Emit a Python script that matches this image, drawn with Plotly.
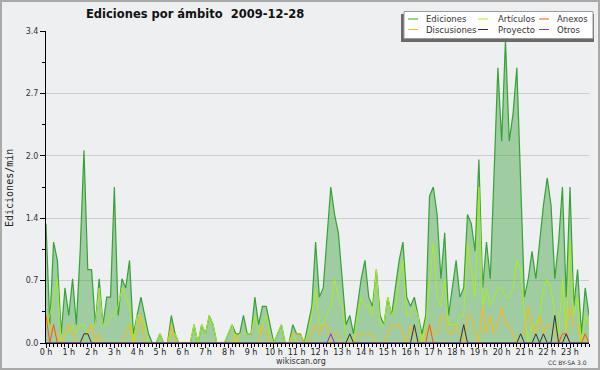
import plotly.graph_objects as go

# ---------------- data (10-minute bins, edits per minute) ----------------
hours = list(range(24))
hour_labels = [f"{h} h" for h in hours]
y_tickvals = [0, 0.68, 1.36, 2.04, 2.72, 3.4]
y_ticklabels = ["0.0", "0.7", "1.4", "2.0", "2.7", "3.4"]

ediciones = [
    1.3, 0.2, 1.1, 0.9, 0.1, 0.6, 0.3, 0.7, 0.2, 1.0, 2.1, 0.8,
    0.8, 0.2, 0.7, 0.2, 0.5, 0.5, 1.7, 0.3, 0.7, 0.6, 0.9, 0.1,
    0.3, 0.5, 0.3, 0.1, 0.0, 0.0, 0.1, 0.0, 0.0, 0.3, 0.1, 0.0,
    0.0, 0.0, 0.0, 0.2, 0.0, 0.2, 0.1, 0.3, 0.2, 0.0, 0.0, 0.0,
    0.1, 0.2, 0.1, 0.1, 0.3, 0.1, 0.1, 0.5, 0.2, 0.4, 0.4, 0.2,
    0.0, 0.1, 0.2, 0.0, 0.0, 0.2, 0.1, 0.1, 0.0, 0.2, 0.4, 1.1,
    0.5, 0.6, 1.1, 1.7, 1.4, 1.2, 0.7, 0.2, 0.3, 0.1, 0.4, 0.7,
    0.9, 0.5, 0.4, 0.8, 0.3, 0.2, 0.5, 0.3, 0.6, 0.9, 1.1, 0.5,
    0.4, 0.5, 0.3, 0.1, 0.3, 1.6, 1.7, 1.4, 0.7, 1.2, 0.3, 0.6,
    0.9, 0.5, 0.6, 1.4, 1.3, 1.0, 2.0, 0.6, 1.1, 0.7, 1.9, 3.0,
    2.2, 3.3, 2.2, 2.5, 3.0, 1.8, 0.5, 0.7, 1.0, 0.7, 1.1, 1.5,
    1.8, 1.5, 0.7, 1.1, 1.7, 0.5, 1.7, 0.4, 0.8, 0.1, 0.6, 0.3,
]

articulos = [
    0.2, 0.3, 0.5, 0.7, 0.0, 0.1, 0.1, 0.2, 0.1, 0.2, 0.2, 0.1,
    0.2, 0.2, 0.6, 0.2, 0.2, 0.3, 0.3, 0.4, 0.6, 0.5, 0.4, 0.0,
    0.3, 0.3, 0.2, 0.0, 0.0, 0.0, 0.1, 0.0, 0.0, 0.1, 0.1, 0.0,
    0.0, 0.0, 0.0, 0.2, 0.0, 0.2, 0.1, 0.3, 0.2, 0.0, 0.0, 0.0,
    0.1, 0.2, 0.0, 0.1, 0.1, 0.1, 0.1, 0.3, 0.1, 0.2, 0.3, 0.1,
    0.0, 0.1, 0.2, 0.0, 0.0, 0.1, 0.0, 0.0, 0.0, 0.1, 0.3, 0.6,
    0.2, 0.2, 0.3, 0.4, 0.7, 0.5, 0.4, 0.1, 0.0, 0.0, 0.3, 0.5,
    0.4, 0.4, 0.3, 0.8, 0.2, 0.2, 0.5, 0.3, 0.4, 0.7, 0.9, 0.3,
    0.3, 0.4, 0.3, 0.0, 0.2, 0.7, 1.1, 0.5, 0.4, 0.7, 0.2, 0.2,
    0.2, 0.3, 0.3, 1.1, 0.8, 0.5, 1.7, 0.4, 0.6, 0.4, 0.5, 0.6,
    0.6, 0.5, 0.5, 0.6, 0.9, 0.8, 0.3, 0.0, 0.2, 0.2, 0.3, 0.6,
    0.7, 0.6, 0.3, 0.1, 0.7, 0.1, 1.1, 0.3, 0.5, 0.0, 0.3, 0.2,
]

discusiones = [
    0.3, 0.2, 0.1, 0.1, 0.0, 0.1, 0.2, 0.1, 0.0, 0.0, 0.1, 0.1,
    0.2, 0.0, 0.1, 0.0, 0.0, 0.0, 0.0, 0.0, 0.0, 0.1, 0.2, 0.0,
    0.1, 0.3, 0.0, 0.0, 0.0, 0.0, 0.0, 0.0, 0.0, 0.2, 0.0, 0.0,
    0.0, 0.0, 0.0, 0.0, 0.0, 0.0, 0.0, 0.0, 0.0, 0.0, 0.0, 0.0,
    0.0, 0.0, 0.1, 0.0, 0.0, 0.0, 0.0, 0.0, 0.0, 0.2, 0.1, 0.0,
    0.0, 0.0, 0.0, 0.0, 0.0, 0.1, 0.1, 0.1, 0.0, 0.0, 0.1, 0.2,
    0.1, 0.2, 0.2, 0.0, 0.1, 0.1, 0.0, 0.0, 0.0, 0.0, 0.1, 0.1,
    0.1, 0.1, 0.1, 0.0, 0.0, 0.0, 0.1, 0.2, 0.2, 0.2, 0.1, 0.0,
    0.2, 0.1, 0.0, 0.0, 0.1, 0.2, 0.1, 0.1, 0.3, 0.3, 0.1, 0.1,
    0.2, 0.1, 0.0, 0.3, 0.3, 0.1, 0.0, 0.4, 0.1, 0.3, 0.1, 0.2,
    0.4, 0.2, 0.2, 0.1, 0.0, 0.1, 0.1, 0.4, 0.2, 0.1, 0.3, 0.1,
    0.2, 0.2, 0.1, 0.0, 0.1, 0.1, 0.4, 0.2, 0.2, 0.0, 0.1, 0.0,
]

anexos = [
    0.3, 0.0, 0.2, 0.0, 0.0, 0.0, 0.0, 0.0, 0.0, 0.0, 0.0, 0.0,
    0.0, 0.0, 0.0, 0.0, 0.0, 0.0, 0.0, 0.0, 0.0, 0.0, 0.0, 0.0,
    0.0, 0.0, 0.0, 0.0, 0.0, 0.0, 0.0, 0.0, 0.0, 0.0, 0.0, 0.0,
    0.0, 0.0, 0.0, 0.0, 0.0, 0.0, 0.0, 0.0, 0.0, 0.0, 0.0, 0.0,
    0.0, 0.0, 0.0, 0.0, 0.0, 0.0, 0.0, 0.0, 0.0, 0.0, 0.0, 0.0,
    0.0, 0.0, 0.0, 0.0, 0.0, 0.0, 0.0, 0.0, 0.0, 0.0, 0.0, 0.0,
    0.0, 0.0, 0.0, 0.0, 0.0, 0.0, 0.0, 0.0, 0.0, 0.0, 0.0, 0.0,
    0.0, 0.0, 0.0, 0.0, 0.0, 0.0, 0.0, 0.0, 0.0, 0.0, 0.0, 0.0,
    0.0, 0.0, 0.0, 0.0, 0.0, 0.2, 0.0, 0.0, 0.0, 0.0, 0.0, 0.0,
    0.0, 0.0, 0.0, 0.0, 0.0, 0.0, 0.0, 0.0, 0.0, 0.0, 0.0, 0.0,
    0.0, 0.0, 0.0, 0.0, 0.0, 0.0, 0.0, 0.0, 0.0, 0.0, 0.0, 0.0,
    0.0, 0.0, 0.0, 0.0, 0.1, 0.1, 0.0, 0.0, 0.0, 0.0, 0.1, 0.0,
]

proyecto = [
    0.0, 0.0, 0.0, 0.0, 0.0, 0.0, 0.0, 0.0, 0.0, 0.0, 0.1, 0.1,
    0.0, 0.0, 0.0, 0.0, 0.0, 0.0, 0.0, 0.0, 0.0, 0.0, 0.0, 0.0,
    0.0, 0.0, 0.0, 0.0, 0.0, 0.0, 0.0, 0.0, 0.0, 0.0, 0.0, 0.0,
    0.0, 0.0, 0.0, 0.0, 0.0, 0.0, 0.0, 0.0, 0.0, 0.0, 0.0, 0.0,
    0.0, 0.0, 0.0, 0.0, 0.0, 0.0, 0.0, 0.0, 0.0, 0.0, 0.0, 0.0,
    0.0, 0.0, 0.0, 0.0, 0.0, 0.0, 0.0, 0.0, 0.0, 0.0, 0.0, 0.0,
    0.0, 0.0, 0.0, 0.0, 0.0, 0.0, 0.0, 0.0, 0.1, 0.0, 0.0, 0.0,
    0.0, 0.0, 0.0, 0.0, 0.0, 0.0, 0.0, 0.0, 0.0, 0.0, 0.0, 0.0,
    0.0, 0.2, 0.0, 0.0, 0.0, 0.0, 0.0, 0.0, 0.0, 0.0, 0.0, 0.0,
    0.0, 0.0, 0.2, 0.0, 0.0, 0.0, 0.0, 0.0, 0.0, 0.0, 0.0, 0.0,
    0.0, 0.0, 0.0, 0.0, 0.0, 0.1, 0.0, 0.0, 0.0, 0.1, 0.0, 0.1,
    0.0, 0.0, 0.3, 0.0, 0.0, 0.1, 0.0, 0.0, 0.0, 0.0, 0.0, 0.0,
]

otros = [
    0.0, 0.0, 0.0, 0.0, 0.0, 0.0, 0.0, 0.0, 0.0, 0.0, 0.0, 0.0,
    0.0, 0.0, 0.0, 0.0, 0.0, 0.0, 0.0, 0.0, 0.0, 0.0, 0.0, 0.0,
    0.0, 0.0, 0.0, 0.0, 0.0, 0.0, 0.0, 0.0, 0.0, 0.0, 0.0, 0.0,
    0.0, 0.0, 0.0, 0.0, 0.0, 0.0, 0.0, 0.0, 0.0, 0.0, 0.0, 0.0,
    0.0, 0.0, 0.0, 0.0, 0.0, 0.0, 0.0, 0.0, 0.0, 0.0, 0.0, 0.0,
    0.0, 0.0, 0.0, 0.0, 0.0, 0.0, 0.0, 0.0, 0.0, 0.0, 0.0, 0.0,
    0.0, 0.0, 0.0, 0.1, 0.0, 0.0, 0.0, 0.0, 0.0, 0.0, 0.0, 0.0,
    0.0, 0.0, 0.0, 0.0, 0.0, 0.0, 0.0, 0.0, 0.0, 0.0, 0.0, 0.0,
    0.0, 0.0, 0.0, 0.0, 0.0, 0.0, 0.0, 0.0, 0.0, 0.0, 0.0, 0.0,
    0.0, 0.0, 0.0, 0.0, 0.0, 0.0, 0.0, 0.0, 0.0, 0.0, 0.0, 0.0,
    0.0, 0.0, 0.0, 0.0, 0.0, 0.0, 0.0, 0.0, 0.0, 0.0, 0.0, 0.0,
    0.0, 0.0, 0.0, 0.0, 0.0, 0.0, 0.0, 0.0, 0.0, 0.0, 0.0, 0.0,
]

series_names = ["Ediciones", "Artículos", "Anexos", "Discusiones", "Proyecto", "Otros"]
title_text = "Ediciones por ámbito\u00a0\u00a02009-12-28"

# time of each 10-minute bin, in hours
times = [i / 6 for i in range(len(ediciones))]

# ---------------- styling ----------------
W, H = 600, 370
L, R, T, B = 46, 11, 31, 27
PW, PH = W - L - R, H - T - B
BG = "#eeeff1"
FONT = "DejaVu Sans"

colors = {
    "Ediciones": "#35a235",
    "Artículos": "#aaee22",
    "Anexos": "#f05a1a",
    "Discusiones": "#ffbb11",
    "Proyecto": "#333333",
    "Otros": "#7733ee",
}


def px(x):
    return (x - L) / PW


def py(y):
    return (H - B - y) / PH


fig = go.Figure()
fig.add_trace(go.Scatter(
    x=times, y=ediciones, mode="lines", name="Ediciones",
    line=dict(color=colors["Ediciones"], width=1.2),
    fill="tozeroy", fillcolor="rgba(80,170,80,0.5)", showlegend=False,
))
for name, vals in [("Artículos", articulos), ("Discusiones", discusiones),
                   ("Anexos", anexos), ("Proyecto", proyecto), ("Otros", otros)]:
    fig.add_trace(go.Scatter(
        x=times, y=vals, mode="lines", name=name,
        line=dict(color=colors[name], width=1), showlegend=False,
    ))

shapes = []
annotations = []

# image border
shapes.append(dict(type="rect", xref="paper", yref="paper",
                   x0=px(1), x1=px(599), y0=py(1), y1=py(369),
                   line=dict(color="#a9a9a9", width=2), layer="above"))

# legend box with shadow
shapes.append(dict(type="rect", xref="paper", yref="paper",
                   x0=px(401), x1=px(594), y0=py(14), y1=py(42),
                   fillcolor="#6a6a6a", line=dict(width=0), layer="above"))
shapes.append(dict(type="rect", xref="paper", yref="paper",
                   x0=px(404), x1=px(593), y0=py(11.5), y1=py(38.5),
                   fillcolor="white", line=dict(color="#9a9a9a", width=1), layer="above"))

legend_layout = [
    ("Ediciones", 408, 19), ("Artículos", 478, 19), ("Anexos", 539, 19),
    ("Discusiones", 408, 29.5), ("Proyecto", 478, 29.5), ("Otros", 539, 29.5),
]
text_offset = {408: 16, 478: 18, 539: 16}
for name, lx, ly in legend_layout:
    shapes.append(dict(type="line", xref="paper", yref="paper",
                       x0=px(lx), x1=px(lx + 10), y0=py(ly), y1=py(ly),
                       line=dict(color=colors[name], width=1), layer="above"))
    annotations.append(dict(text=name, xref="paper", yref="paper",
                            x=px(lx + text_offset[lx]), y=py(ly), xanchor="left", yanchor="middle",
                            showarrow=False, font=dict(family=FONT, size=8.5, color="#333")))

# title
annotations.append(dict(text=f"<b>{title_text}</b>", xref="paper", yref="paper",
                        x=px(84), y=py(14.5), xanchor="left", yanchor="middle", showarrow=False,
                        font=dict(family=FONT, size=11.5, color="#111")))
# y-axis title
annotations.append(dict(text="Ediciones/min", xref="paper", yref="paper",
                        x=px(9), y=py(188), xanchor="center", yanchor="middle", showarrow=False,
                        textangle=-90, font=dict(family="DejaVu Sans Mono", size=10, color="#222")))
# footer
annotations.append(dict(text="wikiscan.org", xref="paper", yref="paper",
                        x=px(301), y=py(361.5), xanchor="center", yanchor="middle", showarrow=False,
                        font=dict(family=FONT, size=8, color="#333")))
annotations.append(dict(text="CC BY-SA 3.0", xref="paper", yref="paper",
                        x=px(589), y=py(362), xanchor="right", yanchor="middle", showarrow=False,
                        font=dict(family=FONT, size=6, color="#333")))

fig.update_layout(
    width=W, height=H,
    margin=dict(l=L, r=R, t=T, b=B, pad=0),
    paper_bgcolor=BG, plot_bgcolor=BG,
    showlegend=False,
    shapes=shapes, annotations=annotations,
    xaxis=dict(
        range=[0, times[-1]], tickmode="array", tickvals=hours, ticktext=hour_labels,
        ticks="outside", ticklen=4, tickcolor="black", tickwidth=1,
        showline=True, linecolor="black", linewidth=1,
        showgrid=False, zeroline=False, ticklabelstandoff=-3,
        tickfont=dict(family=FONT, size=8, color="#222"),
        minor=dict(tickmode="linear", tick0=0, dtick=1 / 6, ticks="outside",
                   ticklen=3, tickcolor="black", showgrid=False),
    ),
    yaxis=dict(
        range=[0, 3.4], tickmode="array", tickvals=y_tickvals, ticktext=y_ticklabels,
        ticks="outside", ticklen=5, tickcolor="black", tickwidth=1,
        showline=True, linecolor="black", linewidth=1,
        showgrid=True, gridcolor="#cdcdcd", gridwidth=1, zeroline=False,
        tickfont=dict(family=FONT, size=8, color="#333"),
        minor=dict(tickmode="linear", tick0=0, dtick=0.34, ticks="outside",
                   ticklen=3, tickcolor="black", showgrid=False),
    ),
)

fig.write_html(
    "out.html",
    config={"displayModeBar": False},
    post_script="document.body.style.margin='0';document.body.style.padding='0';"
                "document.body.style.overflow='hidden';",
)
